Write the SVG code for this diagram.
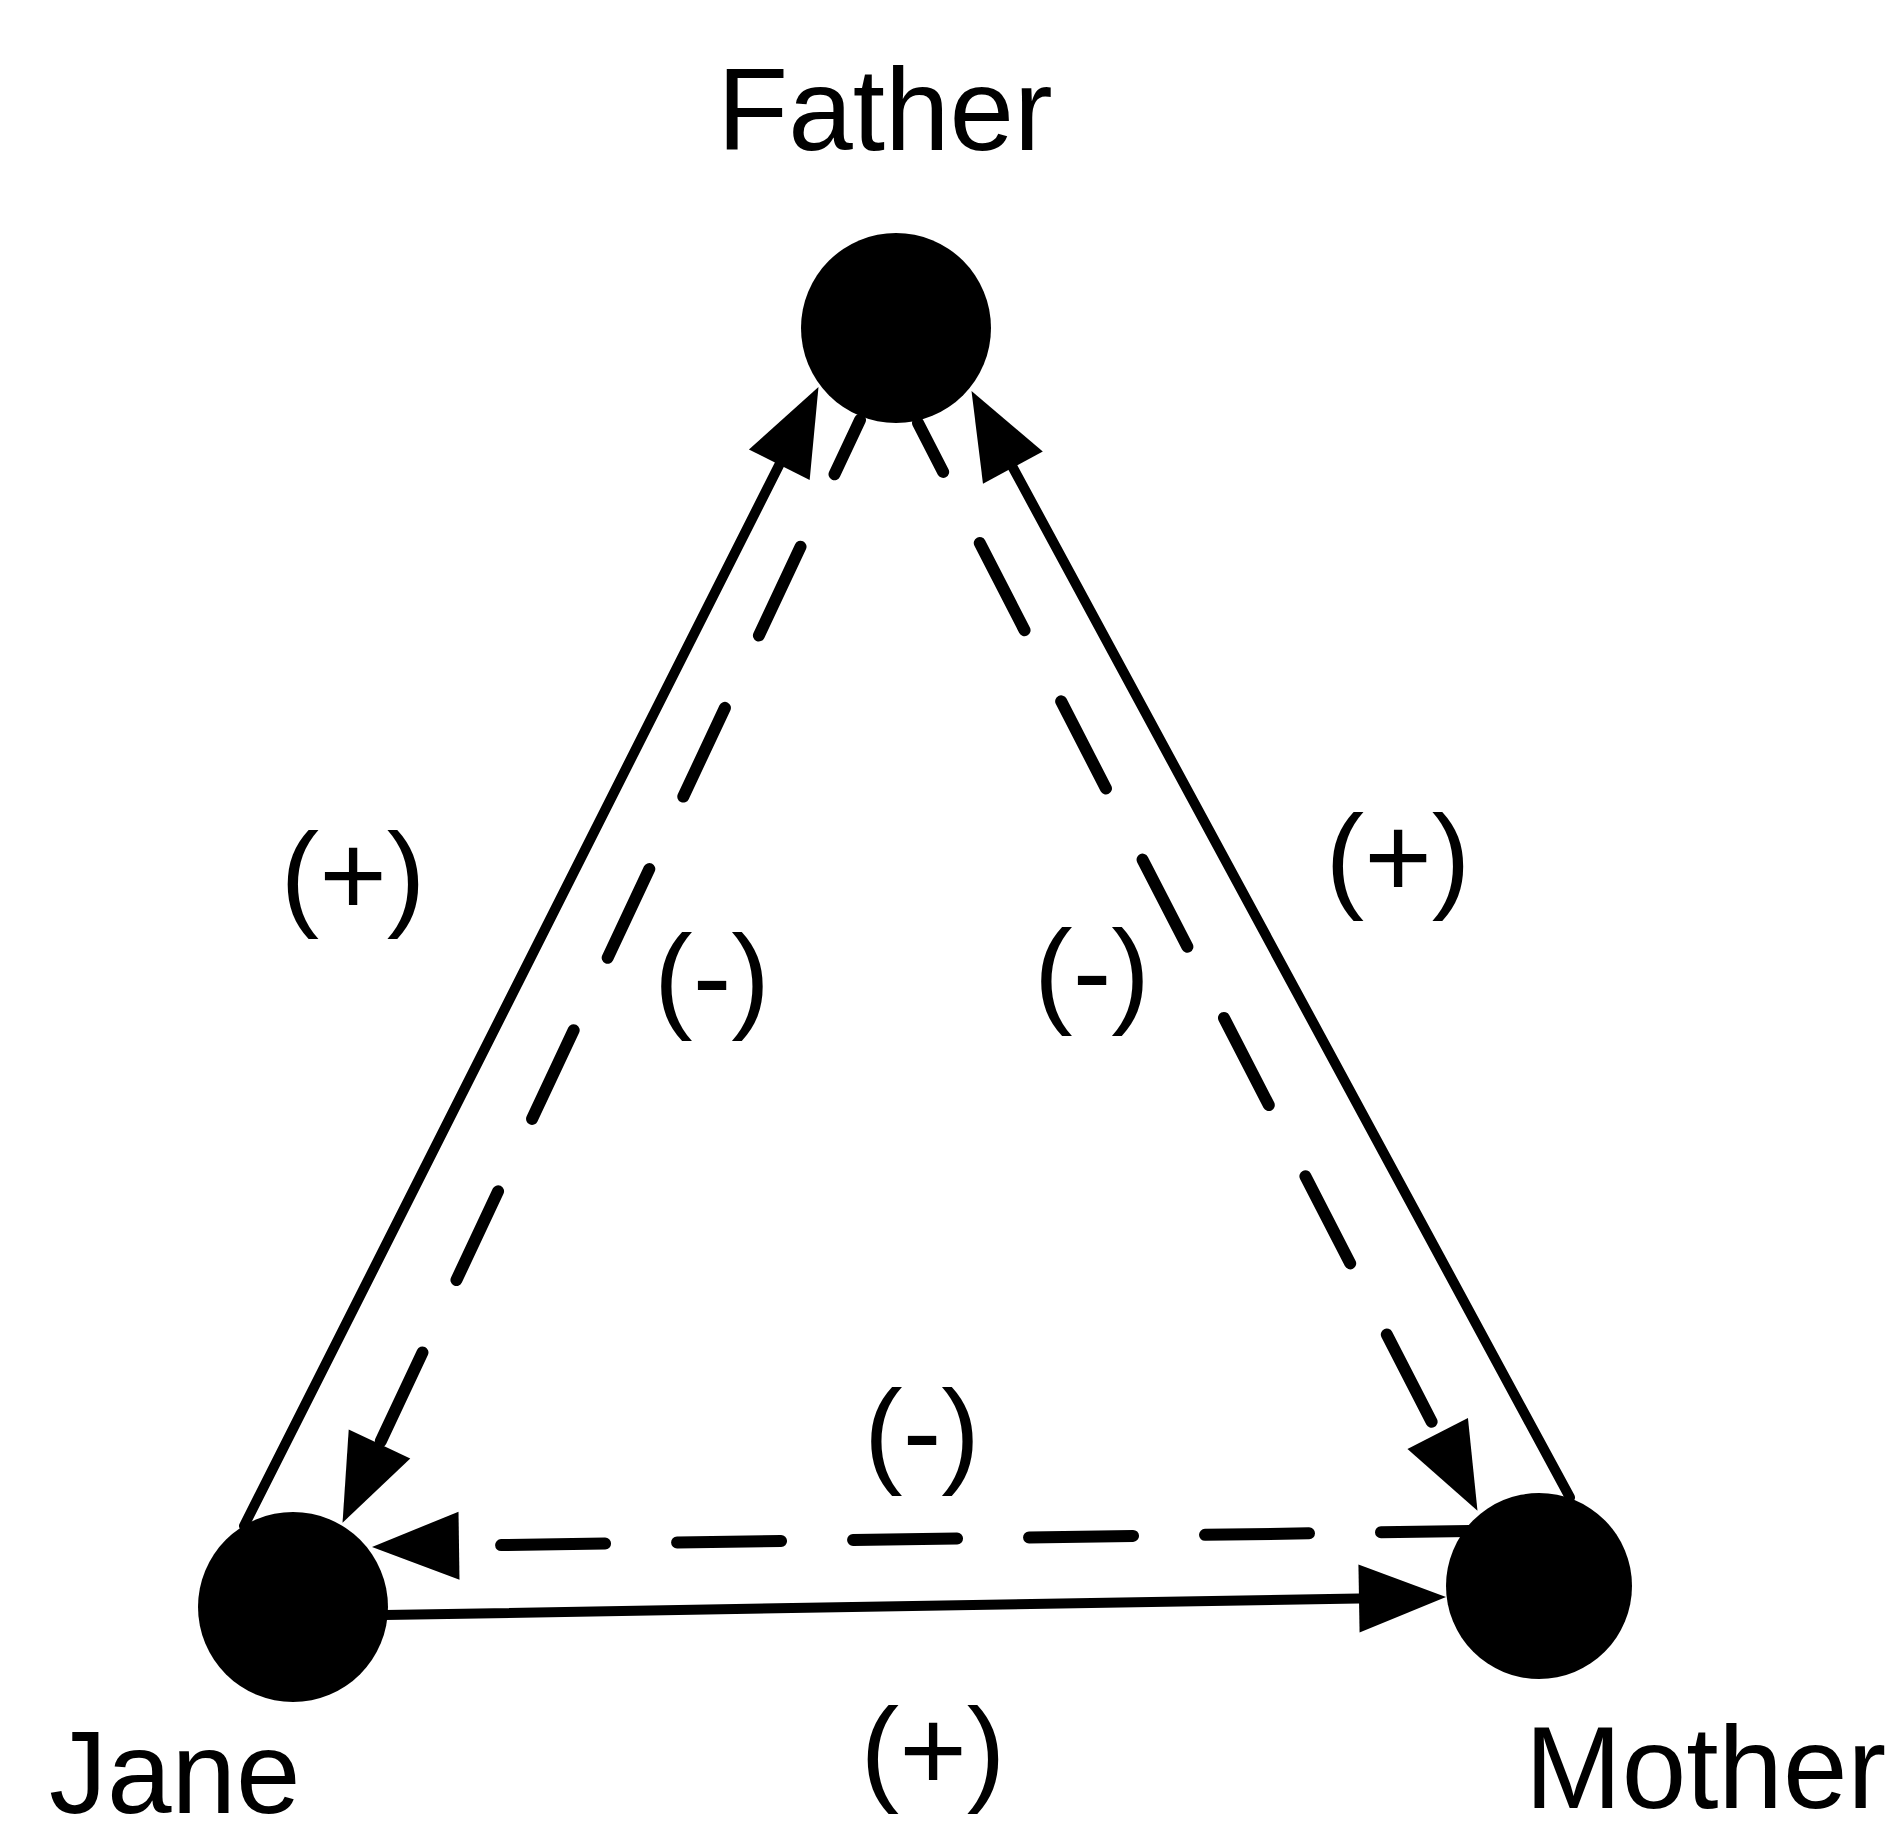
<svg xmlns="http://www.w3.org/2000/svg" width="1897" height="1839" viewBox="0 0 1897 1839">
<style>
  .bg { fill: #ffffff; }
  .node { fill: #000000; }
  .solid { fill: none; stroke: #000000; stroke-width: 10; stroke-linecap: round; }
  .dashed { fill: none; stroke: #000000; stroke-width: 12; stroke-linecap: round; }
  .name { font-family: "Liberation Sans", Arial, sans-serif; font-size: 116px; fill: #000000; }
  .sign { font-family: "Liberation Sans", Arial, sans-serif; font-size: 116px; fill: #000000; text-anchor: middle; }
</style>
<defs>
  <marker id="ah" markerUnits="userSpaceOnUse" orient="auto" refX="0" refY="0" markerWidth="90" markerHeight="70" overflow="visible">
    <path d="M0,-34 L87,0 L0,34 Z" fill="#000000"/>
  </marker>
</defs>
<rect class="bg" x="0" y="0" width="1897" height="1839"/>
<g id="connectors">
  <path id="jane-father" class="solid" d="M244,1526 L779.3,464.8" marker-end="url(#ah)"/>
  <path id="mother-father" class="solid" d="M1570,1497.5 L1012.9,467.6" marker-end="url(#ah)"/>
  <path id="jane-mother" class="solid" d="M385,1615 L1359,1598.5" marker-end="url(#ah)"/>
  <path id="father-jane" class="dashed" d="M860,420 L379.5,1444" stroke-dasharray="98 80" stroke-dashoffset="38" marker-end="url(#ah)"/>
  <path id="father-mother" class="dashed" d="M918,423 L1437.7,1433.5" stroke-dasharray="98 80" stroke-dashoffset="43" marker-end="url(#ah)"/>
  <path id="mother-jane" class="dashed" d="M1470,1531 L459,1545.7" stroke-dasharray="104 72" stroke-dashoffset="15" marker-end="url(#ah)"/>
</g>
<g id="labels">
  <text class="sign" x="353" y="915">(+)</text>
  <text class="sign" x="712" y="1017">(-)</text>
  <text class="sign" x="1092" y="1012">(-)</text>
  <text class="sign" x="1398" y="897">(+)</text>
  <text class="sign" x="922" y="1472">(-)</text>
  <text class="sign" x="933" y="1790">(+)</text>
</g>
<g id="father">
  <circle class="node" cx="896" cy="328" r="95"/>
  <text class="name" x="885" y="150" text-anchor="middle">Father</text>
</g>
<g id="jane">
  <circle class="node" cx="293" cy="1607" r="95"/>
  <text class="name" x="49" y="1813">Jane</text>
</g>
<g id="mother">
  <circle class="node" cx="1539" cy="1586" r="93"/>
  <text class="name" x="1525" y="1808">Mother</text>
</g>
</svg>
